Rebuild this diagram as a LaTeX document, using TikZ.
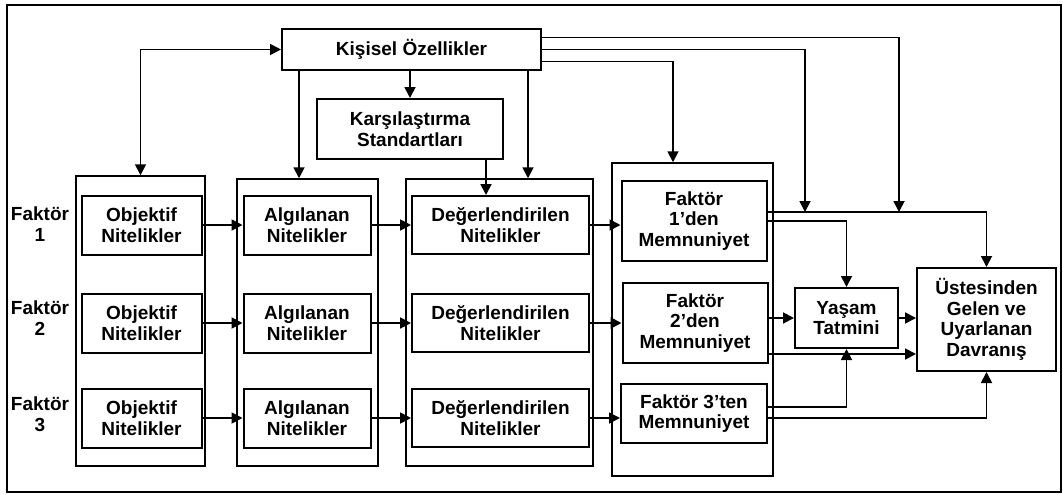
\documentclass[tikz,border=0pt]{standalone}
\usepackage{fontspec}
\setmainfont{Liberation Sans}
\usetikzlibrary{arrows.meta,positioning,calc}
\newcommand{\boxfont}{\bfseries\fontsize{19}{20.5}\selectfont}
\tikzset{
    frame line/.style={line width=2.4pt},
    group box/.style={draw, line width=1.5pt, inner sep=0pt},
    item box/.style={draw, line width=2pt, align=center, inner sep=1pt, font=\boxfont},
    side label/.style={align=center, font=\boxfont},
    box size/.style 2 args={minimum width=#1pt, minimum height=#2pt},
    arr/.style={-{Triangle[length=11pt,width=11pt]}, line width=1.8pt},
    darr/.style={{Triangle[length=11pt,width=11pt]}-{Triangle[length=11pt,width=11pt]}, line width=1.8pt},
}

\begin{document}
\begin{tikzpicture}[x=1pt,y=-1pt]
    \useasboundingbox (0,0) rectangle (1063,495);
    \draw[frame line] (7,5) rectangle (1061,492);
    % column frames
    \node[group box, box size={129}{290}] (col1) at (140.5,321) {};
    \node[group box, box size={141}{287}] (col2) at (307.5,322.5) {};
    \node[group box, box size={187}{287}] (col3) at (499.5,322.5) {};
    \node[group box, box size={161}{313}] (col4) at (692.5,319.5) {};
    \node[item box, box size={259}{41}] (kisisel) at (411.5,49.5) {Kişisel Özellikler};
    \node[item box, box size={186}{60}] (kars) at (410,129) {Karşılaştırma\\Standartları};
    \foreach \i/\y/\ly in {1/225/224,2/323/318,3/418/414}{
        \node[side label] (fak\i) at (40,\ly) {Faktör\\\i};
        \node[item box, box size={120}{59}] (obj\i) at (141.5,\y) {Objektif\\Nitelikler};
        \node[item box, box size={127}{59}] (alg\i) at (307,\y) {Algılanan\\Nitelikler};
        \node[item box, box size={177}{58}] (deg\i) at (500.5,\y) {Değerlendirilen\\Nitelikler};
        \draw[arr] (obj\i.east) -- (obj\i.east -| alg\i.west);
        \draw[arr] (alg\i.east) -- (alg\i.east -| deg\i.west);
    }
    \node[item box, box size={145}{80}] (mem1) at (694,221) {Faktör\\1’den\\Memnuniyet};
    \node[item box, box size={145}{80}] (mem2) at (695,323) {Faktör\\2’den\\Memnuniyet};
    \node[item box, box size={146}{59}] (mem3) at (694,413.5) {Faktör 3’ten\\Memnuniyet};
    \node[item box, box size={103}{60}] (yasam) at (846.5,318) {Yaşam\\Tatmini};
    \node[item box, box size={139}{103}] (ustes) at (986.5,319.5) {Üstesinden\\Gelen ve\\Uyarlanan\\Davranış};
    \foreach \i in {1,2,3}
        \draw[arr] (deg\i.east) -- (deg\i.east -| mem\i.west);

    % from Kisisel Ozellikler
    \draw[darr] (col1.north) |- (kisisel.west);
    \coordinate (k2) at ([xshift=-8.5pt]col2.north);
    \draw[arr] (k2 |- kisisel.south) -- (k2);
    \draw[arr] (kars.north |- kisisel.south) -- (kars.north);
    \coordinate (k3) at ([xshift=76pt]kars.south);
    \draw[arr] (k3) -- (k3 |- deg1.north);
    \coordinate (k4) at ([xshift=28.5pt]col3.north);
    \draw[arr] (k4 |- kisisel.south) -- (k4);
    \draw[arr] ([yshift=-12pt]kisisel.east) -| ([xshift=-19.5pt]col4.north);
    \coordinate (m1) at (805,212);
    \coordinate (m2) at (899,212);
    \draw[arr] (kisisel.east) -| (m1);
    \draw[arr] ([yshift=12pt]kisisel.east) -| (m2);

    % to Yasam Tatmini and Ustesinden
    \draw[arr] ([yshift=9pt]mem1.east) -| (ustes.north);
    \draw[arr] (mem1.east) -| (yasam.north);
    \draw[arr] (mem2.east |- yasam) -- (yasam.west);
    \coordinate (p2) at ([yshift=-31pt]mem2.east);
    \draw[arr] (p2) -- (p2 -| ustes.west);
    \draw[arr] ([yshift=6.5pt]mem3.east) -| (yasam.south);
    \draw[arr] ([yshift=-4.5pt]mem3.east) -| (ustes.south);
    \draw[arr] (yasam.east) -- (yasam.east -| ustes.west);
\end{tikzpicture}
\end{document}
